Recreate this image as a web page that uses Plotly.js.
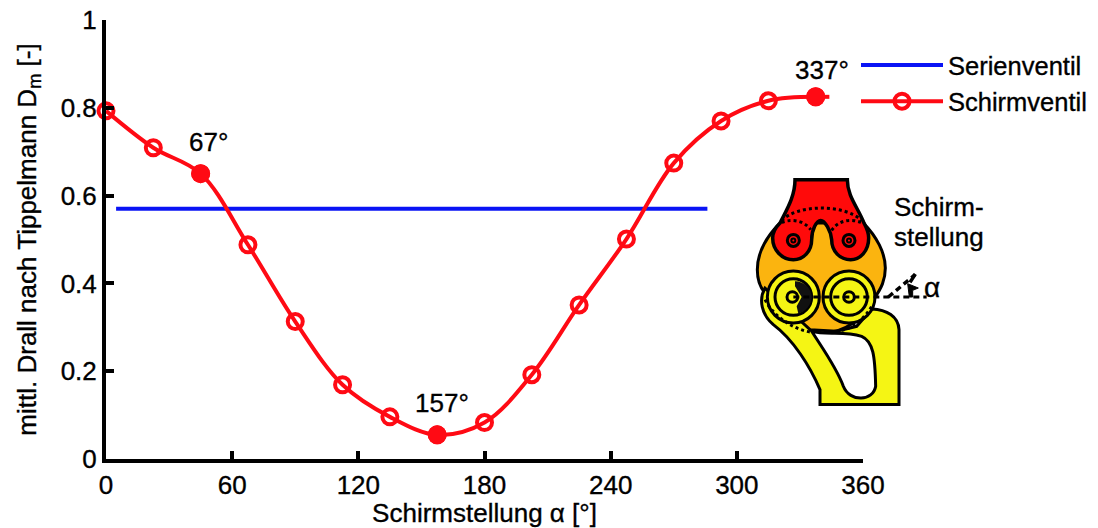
<!DOCTYPE html>
<html><head><meta charset="utf-8">
<script src="https://cdn.plot.ly/plotly-3.0.1.min.js"></script>
<style>html,body{margin:0;padding:0;background:#fff}#c{width:1098px;height:528px}
.main-svg text{stroke:#000;stroke-width:.35px}</style></head>
<body><div id="c"></div>
<script>
const angles=[0,22.5,45,67.5,90,112.5,135,157.5,180,202.5,225,247.5,270,292.5,315,337.5];
const schirmventil=[0.793,0.709,0.65,0.488,0.313,0.169,0.096,0.055,0.083,0.192,0.351,0.501,0.674,0.77,0.816,0.825];
const highlightAngles=[45,157.5,337.5];
const highlightValues=[0.65,0.055,0.825];
const tailAngles=[337.5,344];
const tailValues=[0.825,0.825];
const serienAngles=[4.8,286];
const serienValues=[0.57,0.57];
const xTicks=[0,60,120,180,240,300,360];
const yTicks=[0,0.2,0.4,0.6,0.8,1];
const yTickText=['0','0.2','0.4','0.6','0.8','1'];

const W=1098,H=528,M={l:106,r:235,t:20,b:68.5};
const PW=W-M.l-M.r,PH=H-M.t-M.b;
// Illustration is authored in its own local units, mapped onto paper space
const ix=x=>((730+x/3-M.l)/PW).toFixed(5);
const iy=y=>((H-M.b-(160+y/3))/PH).toFixed(5);
function P(s){return s.replace(/(-?[\d.]+),(-?[\d.]+)/g,(m,a,b)=>ix(+a)+','+iy(+b));}
function shape(path,fill,w,dash){return {type:'path',xref:'paper',yref:'paper',layer:'above',path:P(path),
  fillcolor:fill||'rgba(0,0,0,0)',line:{color:w?'#000':'rgba(0,0,0,0)',width:w||0,dash:dash||'solid'}};}
function circ(cx,cy,r,fill,w,dash){const k=0.5523*r;
 return shape(`M ${cx-r},${cy} C ${cx-r},${cy-k} ${cx-k},${cy-r} ${cx},${cy-r} C ${cx+k},${cy-r} ${cx+r},${cy-k} ${cx+r},${cy} C ${cx+r},${cy+k} ${cx+k},${cy+r} ${cx},${cy+r} C ${cx-k},${cy+r} ${cx-r},${cy+k} ${cx-r},${cy} Z`,fill,w,dash);}
const RED='#ff0a0a',OR='#fbb40f',YE='#f5f514';
const shapes=[
 shape('M 150,190 C 105,235 82,285 82,330 C 82,365 92,385 105,400 C 140,470 200,510 280,520 C 340,520 400,480 430,420 C 455,385 466,360 466,325 C 466,280 440,230 400,190 Z',OR,3),
 shape('M 105,385 C 85,420 95,465 130,495 C 190,540 240,620 270,690 L 270,735 L 507,735 L 507,510 C 505,470 470,450 425,448 L 380,500 L 320,515 L 240,510 Z',YE,3),
 shape('M 245,515 C 290,528 340,512 395,530 C 430,545 435,590 437,680 C 430,725 360,730 340,680 C 320,625 280,570 245,515 Z','#ffffff',3),
 shape('M 195,60 L 352,60 C 352,110 385,145 402,190 C 410,205 416,215 416,235 C 416,275 390,300 362,300 C 330,300 305,275 305,240 C 303,215 285,182 272,182 C 260,182 245,210 245,240 C 245,275 220,300 190,300 C 155,300 128,270 128,235 C 128,215 140,200 150,190 C 170,150 195,110 195,60 Z',RED,3.5),
 circ(190,242,18,RED,3),circ(357,242,18,RED,3),circ(190,242,6,RED,2),circ(357,242,6,RED,2),
 shape('M 155,182 C 200,135 340,130 395,182',null,3,'3px,3px'),
 shape('M 155,188 C 190,175 225,185 242,210',null,3,'3px,3px'),
 shape('M 305,212 C 325,180 365,175 398,190',null,3,'3px,3px'),
 circ(190,412,78,YE,3),circ(357,412,78,YE,3),
 circ(190,412,55,YE,3),circ(357,412,55,YE,3),
 shape('M 195,365 C 225,365 245,390 245,412 C 245,435 225,458 205,462 L 200,440 L 215,412 L 195,380 Z','#111',0),
 circ(187,412,16,YE,3),circ(357,412,16,YE,3),
 shape('M 105,420 C 130,470 190,510 245,518',null,3,'3px,3px'),
 shape('M 335,512 C 370,505 405,475 425,440',null,3,'3px,3px'),
 shape('M 190,412 L 590,412',null,3,'6px,4px'),
 shape('M 475,412 L 555,345',null,3.5,'6px,4px'),
 shape('M 533,372 L 565,385 L 548,392 L 548,412 L 538,412 Z','#000',1),
 shape('M 540,368 L 556,343',null,3.5)
];
function note(t,x,y,sz,anchor){return {text:t,xref:'paper',yref:'paper',x:(x-M.l)/PW,y:(H-M.b-y)/PH,
  showarrow:false,xanchor:anchor||'center',yanchor:'middle',font:{family:'Liberation Sans, Arial, sans-serif',size:sz||26,color:'#000'}};}
const REDL='#ff0a14';
const data=[
 {name:'Serienventil',x:serienAngles,y:serienValues,mode:'lines',line:{color:'#0a14f5',width:4},cliponaxis:false},
 {name:'Schirmventil',x:angles,y:schirmventil,mode:'lines+markers',cliponaxis:false,
  line:{color:REDL,width:4,shape:'spline',smoothing:1},
  marker:{symbol:'circle-open',size:15,color:REDL,line:{color:REDL,width:4}}},
 {name:'Ende',x:tailAngles,y:tailValues,mode:'lines',showlegend:false,line:{color:REDL,width:4},cliponaxis:false,hoverinfo:'skip'},
 {name:'Schirmstellung',x:highlightAngles,y:highlightValues,mode:'markers',showlegend:false,cliponaxis:false,
  marker:{symbol:'circle',size:19,color:REDL}}
];
const tf={family:'Liberation Sans, Arial, sans-serif',size:26,color:'#000'};
const axis={showgrid:false,zeroline:false,showline:true,linecolor:'#000',linewidth:4,ticks:'inside',ticklen:8,tickwidth:4,tickcolor:'#000',tickfont:tf};
const layout={width:W,height:H,margin:{l:M.l,r:M.r,t:M.t,b:M.b,pad:0,autoexpand:false},paper_bgcolor:'#fff',plot_bgcolor:'#fff',
 font:tf,showlegend:true,
 legend:{x:(856-M.l)/PW,y:(H-M.b-42)/PH,xanchor:'left',yanchor:'top',bgcolor:'rgba(0,0,0,0)',borderwidth:0,itemwidth:82,font:{family:tf.family,size:25.5,color:'#000'},tracegroupgap:0},
 xaxis:Object.assign({},axis,{range:[0,360],tickvals:xTicks,ticktext:xTicks.map(String),tickangle:0,automargin:false,
   title:{text:'Schirmstellung α [°]',font:tf,standoff:2}}),
 yaxis:Object.assign({},axis,{range:[0,1],tickvals:yTicks,ticktext:yTickText,automargin:false,
   title:{text:'mittl. Drall nach Tippelmann D<sub>m</sub> [-]',font:tf,standoff:18}}),
 shapes:shapes,
 annotations:[note('67°',208,142),note('157°',442,403),note('337°',822,70),
   note('Schirm-',892,207,26,'left'),note('stellung',892,237,26,'left'),note('α',932,288,28)]
};
Plotly.newPlot('c',data,layout,{displayModeBar:false,staticPlot:true});
</script></body></html>
